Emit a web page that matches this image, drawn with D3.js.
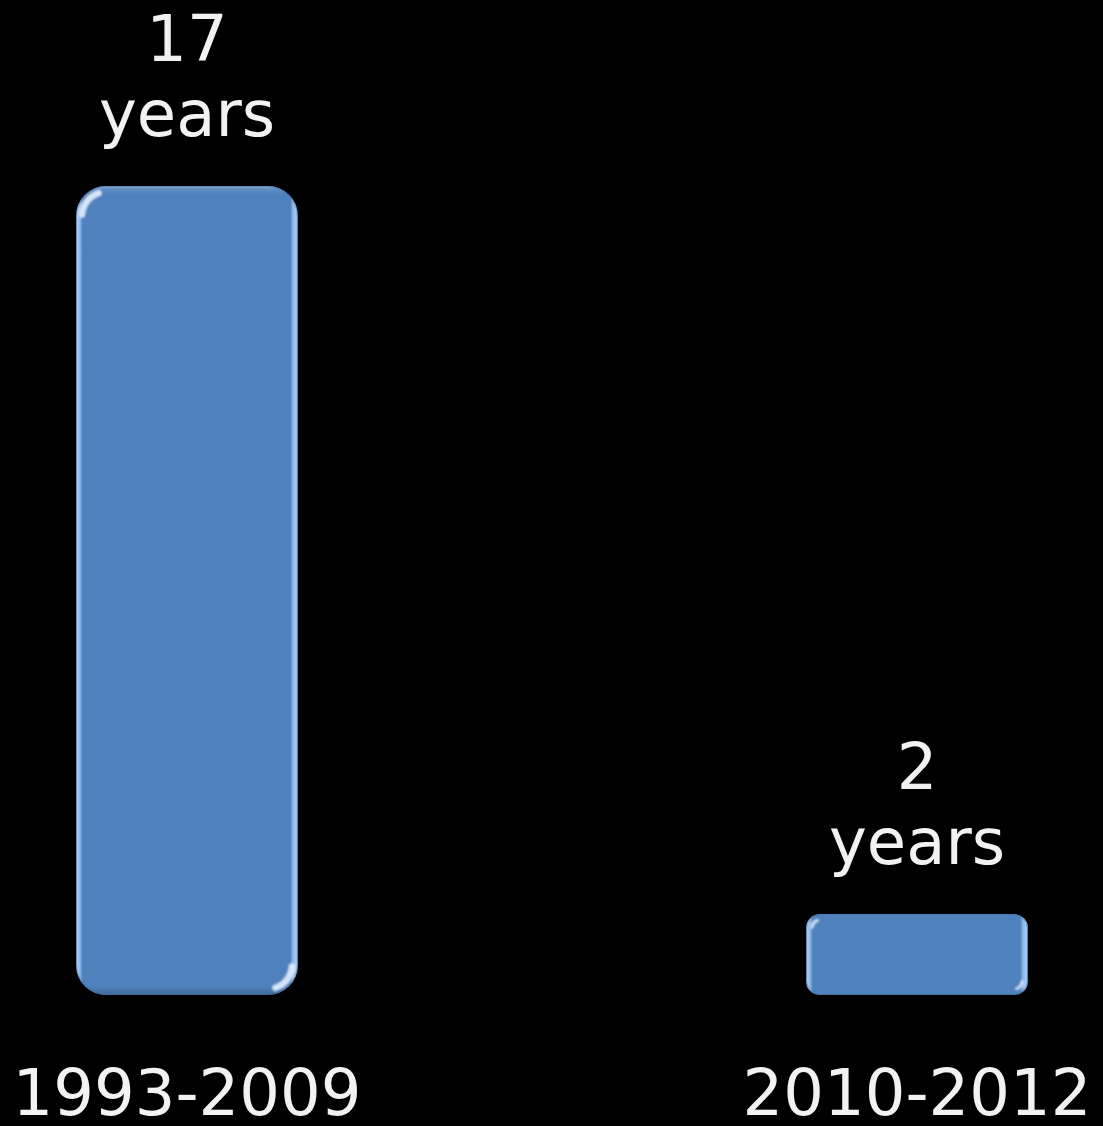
<!DOCTYPE html>
<html>
<head>
<meta charset="utf-8">
<script src="https://cdn.jsdelivr.net/npm/d3@7"></script>
<style>
html,body{margin:0;padding:0;background:#000;}
svg{display:block;}
</style>
</head>
<body>
<svg id="chart" width="1103" height="1126"></svg>
<script>
const categories = ["1993-2009", "2010-2012"];
const values = [17, 1.7];
const valueLabels = ["17", "2"];
const unitLabel = "years";

const W = 1103, H = 1126;
const svg = d3.select("#chart");
svg.append("rect").attr("width", W).attr("height", H).attr("fill", "#000");

const x = d3.scaleBand().domain(categories).range([3, 1101]).paddingInner(0.696).paddingOuter(0.1);
const y = d3.scaleLinear().domain([0, 17]).range([995, 186]);

const defs = svg.append("defs");
const gh = defs.append("linearGradient").attr("id", "edgeH").attr("x1", 0).attr("x2", 1).attr("y1", 0).attr("y2", 0);
[[0, "#6f9ad0"], [0.006, "#a8cdf6"], [0.018, "#8fb8e8"], [0.03, "#4f81bd"],
 [0.965, "#4f81bd"], [0.978, "#8fb8e8"], [0.992, "#a8cdf6"], [1, "#6f9ad0"]]
  .forEach(s => gh.append("stop").attr("offset", s[0]).attr("stop-color", s[1]));
const gv = defs.append("linearGradient").attr("id", "edgeV").attr("x1", 0).attr("x2", 0).attr("y1", 0).attr("y2", 1);
[[0, "#ffffff", 0.35], [0.004, "#ffffff", 0.1], [0.01, "#ffffff", 0], [0.99, "#000000", 0], [1, "#000000", 0.2]]
  .forEach(s => gv.append("stop").attr("offset", s[0]).attr("stop-color", s[1]).attr("stop-opacity", s[2]));
defs.append("filter").attr("id", "soft").attr("x", "-50%").attr("y", "-50%").attr("width", "200%").attr("height", "200%")
  .append("feGaussianBlur").attr("stdDeviation", 1.2);

const data = categories.map((c, i) => ({c, v: values[i], lab: valueLabels[i]}));

const g = svg.append("g");
const bars = g.selectAll("g.bar").data(data).join("g").attr("class", "bar");
bars.each(function(d) {
  const sel = d3.select(this);
  const x0 = x(d.c), bw = x.bandwidth();
  const y0 = y(d.v), h = y(0) - y(d.v);
  const r = Math.min(30, h * 0.17);
  sel.append("rect").attr("x", x0).attr("y", y0).attr("width", bw).attr("height", h)
    .attr("rx", r).attr("ry", r).attr("fill", "url(#edgeH)");
  sel.append("rect").attr("x", x0).attr("y", y0).attr("width", bw).attr("height", h)
    .attr("rx", r).attr("ry", r).attr("fill", "url(#edgeV)");
  sel.append("rect").attr("x", x0 + 0.5).attr("y", y0 + 0.5).attr("width", bw - 1).attr("height", h - 1)
    .attr("rx", r).attr("ry", r).attr("fill", "none").attr("stroke", "#3d6aa3").attr("stroke-opacity", 0.5).attr("stroke-width", 1);
  // corner glints (crescents inside top-left and bottom-right arcs)
  const ri = r - 6;
  const sw = Math.max(3, r * 0.22);
  const cx1 = x0 + r, cy1 = y0 + r;
  const p1 = a => [cx1 + ri * Math.cos(a), cy1 + ri * Math.sin(a)];
  const s1 = p1(Math.PI * 1.02), e1 = p1(Math.PI * 1.4);
  sel.append("path")
    .attr("d", `M${s1[0]},${s1[1]} A${ri},${ri} 0 0 1 ${e1[0]},${e1[1]}`)
    .attr("fill", "none").attr("stroke", "#eef6ff").attr("stroke-width", sw).attr("stroke-opacity", 0.85)
    .attr("stroke-linecap", "round").attr("filter", "url(#soft)");
  const cx2 = x0 + bw - r, cy2 = y0 + h - r;
  const p2 = a => [cx2 + ri * Math.cos(a), cy2 + ri * Math.sin(a)];
  const s2 = p2(Math.PI * 0.02), e2 = p2(Math.PI * 0.4);
  sel.append("path")
    .attr("d", `M${s2[0]},${s2[1]} A${ri},${ri} 0 0 1 ${e2[0]},${e2[1]}`)
    .attr("fill", "none").attr("stroke", "#eef6ff").attr("stroke-width", sw).attr("stroke-opacity", 0.85)
    .attr("stroke-linecap", "round").attr("filter", "url(#soft)");
});

const font = "'DejaVu Sans', Verdana, sans-serif";
bars.append("text")
  .attr("x", d => x(d.c) + x.bandwidth() / 2)
  .attr("y", d => y(d.v) - 50 - 75)
  .attr("text-anchor", "middle").attr("font-family", font).attr("font-size", 64).attr("fill", "#f2f2f2")
  .text(d => d.lab);
bars.append("text")
  .attr("x", d => x(d.c) + x.bandwidth() / 2)
  .attr("y", d => y(d.v) - 50)
  .attr("text-anchor", "middle").attr("font-family", font).attr("font-size", 64).attr("fill", "#f2f2f2")
  .text(unitLabel);

const axis = svg.append("g").attr("transform", `translate(0,${y(0)})`)
  .call(d3.axisBottom(x).tickSize(0).tickPadding(0));
axis.select(".domain").remove();
axis.selectAll("text").attr("font-family", font).attr("font-size", 64).attr("fill", "#f2f2f2")
  .attr("dy", null).attr("y", 120);
</script>
</body>
</html>
